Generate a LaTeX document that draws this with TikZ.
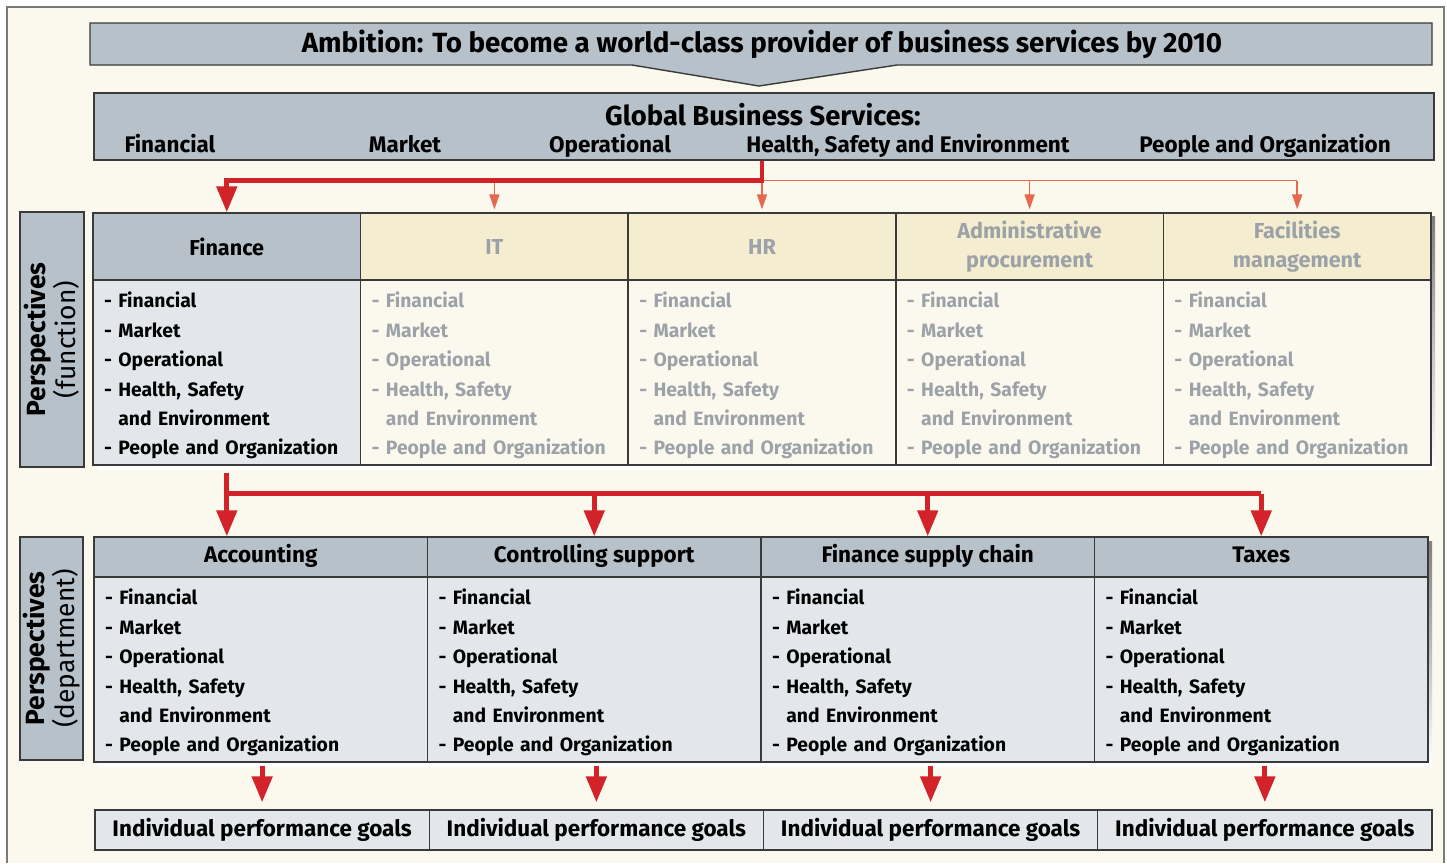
\documentclass[tikz,border=0pt]{standalone}
\usepackage{fontspec}
\setmainfont{Fira Sans}
\usetikzlibrary{positioning,arrows.meta,calc}

\definecolor{bgcream}{HTML}{FBF8EE}
\definecolor{steel}{HTML}{B7C1CA}
\definecolor{mist}{HTML}{E3E7EC}
\definecolor{sand}{HTML}{F5EDCF}
\definecolor{shade}{HTML}{F1EAD2}
\definecolor{fade}{HTML}{9DA2A8}
\definecolor{bigred}{HTML}{D2232A}
\definecolor{thinred}{HTML}{E5694E}
\definecolor{edge}{HTML}{3A3A3A}
\definecolor{framec}{HTML}{7A7A7A}

% the six perspectives, same in every cell
\newcommand{\perslist}{\rule{0pt}{12.5pt}- Financial\\- Market\\- Operational\\- Health, Safety\\\phantom{- }and Environment\\- People and Organization}

\tikzset{
	box/.style={draw=edge, line width=0.8pt, inner sep=0pt},
	headon/.style={box, fill=steel, minimum width=5.352cm, minimum height=1.36cm, align=center, font=\fontsize{12.3}{16.5}\selectfont\bfseries},
	headoff/.style={headon, fill=sand, text=fade},
	bodyon/.style={box, fill=mist, minimum width=5.352cm, minimum height=3.7cm, text width=4.91cm, align=left, font=\fontsize{11}{16.7}\selectfont\bfseries},
	bodyoff/.style={bodyon, fill=bgcream, text=fade},
	dhead/.style={box, fill=steel, minimum width=6.67cm, minimum height=0.8cm, text height=1.7ex, text depth=0.5ex, font=\fontsize{12.8}{15}\selectfont\bfseries},
	dbody/.style={bodyon, minimum width=6.67cm, text width=6.23cm},
	goal/.style={box, fill=mist, minimum width=6.685cm, minimum height=0.8cm, font=\fontsize{12.8}{15}\selectfont\bfseries},
	side/.style={box, fill=steel, rotate=90, align=center, font=\fontsize{15}{17}\selectfont},
	bigline/.style={bigred, line width=2.8pt},
	bigarrow/.style={bigline, -{Triangle[length=14.7pt,width=11.3pt]}},
	thinline/.style={thinred, line width=0.85pt},
	thinarrow/.style={thinline, -{Triangle[length=8.5pt,width=5.7pt]}},
}

\begin{document}
\begin{tikzpicture}[x=0.02cm, y=-0.02cm]
\useasboundingbox (0,0) rectangle (1447,863);
\fill[bgcream] (7,7) rectangle (1444,863);
\draw[framec, line width=0.8pt] (7,863) -- (7,7) -- (1444,7) -- (1444,863);

% ambition banner with its notch
\draw[box, fill=steel] (90,23) -- (1432,23) -- (1432,65) -- (897,65) -- (759,86) -- (632,65) -- (90,65) -- cycle;
\node[font=\fontsize{15.8}{18}\selectfont\bfseries] (amb) at (762,44) {Ambition: To become a world-class provider of business services by 2010};

% global business services
\node[box, fill=steel, minimum width=26.8cm, minimum height=1.34cm] (gbs) at (764,126.5) {};
\node[font=\fontsize{15.6}{18}\selectfont\bfseries] (gbst) at (763,115) {Global Business Services:};
\foreach[count=\i] \x/\t in {170/Financial, 405/Market, 610/Operational, 908/{Health, Safety and Environment}, 1265/People and Organization}{
	\node[anchor=base, font=\fontsize{12.8}{15}\selectfont\bfseries] (gl\i) at (\x,152) {\t};
}

% function table
\fill[shade] (97,216) rectangle (1435,469);
\node[headon] (hf1) at (226.8,247) {Finance};
\node[bodyon] (bf1) at (226.8,372.5) {\perslist};
\foreach[count=\i from 2] \t in {IT,HR,{Administrative\\procurement},{Facilities\\management}}{
	\node[headoff] (hf\i) at ({93+267.6*(\i-0.5)},247) {\t};
	\node[bodyoff] (bf\i) at ({93+267.6*(\i-0.5)},372.5) {\perslist};
}
\node[side, minimum width=5.1cm, minimum height=1.28cm] (sf) at (52,339.5) {\textbf{Perspectives}\\(function)};

% department table
\fill[shade] (98,541) rectangle (1432,766);
\foreach[count=\i] \t in {Accounting,Controlling support,Finance supply chain,Taxes}{
	\node[dhead] (hd\i) at ({94+333.5*(\i-0.5)},557) {\t};
	\node[dbody] (bd\i) at ({94+333.5*(\i-0.5)},669.5) {\perslist};
	\node[goal] (g\i) at ({95+334.25*(\i-0.5)},830) {Individual performance goals};
}
\node[side, minimum width=4.46cm, minimum height=1.26cm] (sd) at (51.5,648.5) {\textbf{Perspectives}\\(department)};

% arrows from global services to functions
\coordinate (fork) at ($(gbs.south -| hf3.north)+(0,20)$);
\draw[thinline] (fork -| hf2.north) -- (fork -| hf5.north);
\foreach \k in {2,...,5}{
	\draw[thinarrow] (fork -| hf\k.north) -- ($(hf\k.north)+(0,-3)$);
}
\draw[bigarrow] (gbs.south -| hf3.north) -- (fork) -| (hf1.north);

% arrows from finance to departments
\coordinate (split) at ($(bf1.south)+(0,28)$);
\draw[bigarrow] ($(bf1.south)+(0,7)$) -- (bf1.south |- hd1.north);
\draw[bigline] (split) -- (split -| hd4.north);
\foreach \k in {2,3,4}{
	\draw[bigarrow] (split -| hd\k.north) -- (hd\k.north);
}

% arrows to goals
\foreach \k in {1,...,4}{
	\draw[bigarrow] (bd\k.south -| g\k.north) ++(0,3) -- ($(g\k.north)+(0,-7)$);
}
\end{tikzpicture}
\end{document}
